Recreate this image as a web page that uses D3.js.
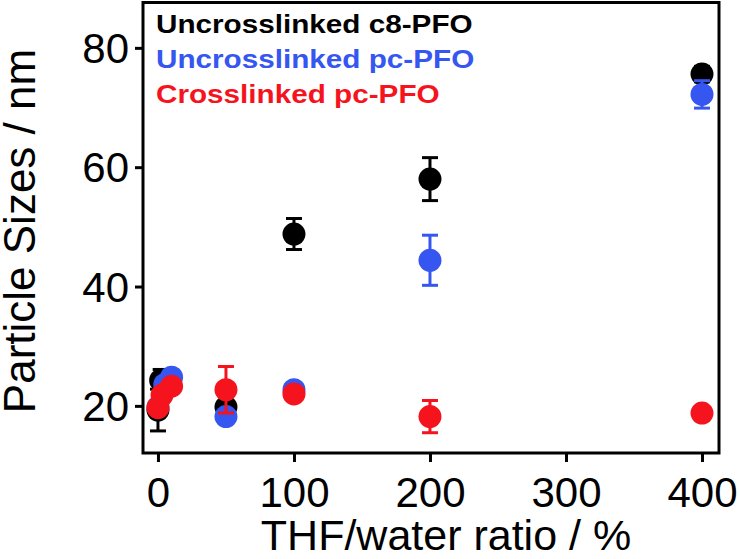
<!DOCTYPE html>
<html>
<head>
<meta charset="utf-8">
<script src="https://cdn.jsdelivr.net/npm/d3@7"></script>
<style>
  html, body { margin: 0; padding: 0; background: #fff; }
  svg { display: block; }
  text { font-family: "Liberation Sans", Arial, sans-serif; }
</style>
</head>
<body>
<svg id="chart" width="740" height="559"></svg>
<script>
// ---- data ----
const seriesNames = ["Uncrosslinked c8-PFO", "Uncrosslinked pc-PFO", "Crosslinked pc-PFO"];
const seriesColors = ["#000000", "#3556f0", "#f5141e"];

const xC8 = [0, 2, 50, 100, 200, 400];
const yC8 = [19.3, 24.3, 19.8, 48.8, 58.0, 75.6];
const eC8 = [3.5, 1.8, 0.8, 2.6, 3.6, 1.3];

const xPc = [0, 5, 10, 50, 100, 200, 400];
const yPc = [19.8, 23.6, 24.8, 18.2, 22.7, 44.4, 72.2];
const ePc = [0.8, 1.0, 1.2, 0.6, 0.5, 4.2, 2.3];

const xX = [0, 3, 10, 50, 100, 200, 400];
const yX = [19.7, 21.8, 23.3, 22.7, 22.0, 18.2, 18.8];
const eX = [0.5, 0.5, 0.5, 3.9, 0.4, 2.7, 0.4];

const xTicks = [0, 100, 200, 300, 400];
const yTicks = [20, 40, 60, 80];
const xTitle = "THF/water ratio / %";
const yTitle = "Particle Sizes / nm";

// ---- layout ----
const L = 143, R = 719, T = 2.5, B = 453;
const x = d3.scaleLinear().domain([-11, 412.5]).range([L, R]);
const y = d3.scaleLinear().domain([12.1, 87.6]).range([B, T]);

const svg = d3.select("#chart");

const series = [
  { name: seriesNames[0], color: seriesColors[0], xs: xC8, ys: yC8, es: eC8 },
  { name: seriesNames[1], color: seriesColors[1], xs: xPc, ys: yPc, es: ePc },
  { name: seriesNames[2], color: seriesColors[2], xs: xX, ys: yX, es: eX }
];

// axes
const xAxis = d3.axisBottom(x).tickValues(xTicks).tickSize(9).tickPadding(6).tickFormat(d3.format("d"));
const yAxis = d3.axisLeft(y).tickValues(yTicks).tickSize(8).tickPadding(7).tickFormat(d3.format("d"));

const gx = svg.append("g").attr("transform", `translate(0,${B})`).call(xAxis);
const gy = svg.append("g").attr("transform", `translate(${L},0)`).call(yAxis);
[gx, gy].forEach(g => {
  g.select(".domain").remove();
  g.selectAll(".tick line").attr("stroke", "#000").attr("stroke-width", 3);
  g.selectAll(".tick text").attr("fill", "#000").style("font-size", "42px")
    .style("font-family", "'Liberation Sans', Arial, sans-serif");
});
gx.selectAll(".tick text").attr("dy", null).attr("y", 54);
gy.selectAll(".tick text").attr("dy", "0.35em").attr("x", -14);

// frame
svg.append("rect").attr("x", L).attr("y", T).attr("width", R - L).attr("height", B - T)
  .attr("fill", "none").attr("stroke", "#000").attr("stroke-width", 3);

// points
const r = 11.5, capW = 8;
series.forEach(s => {
  const g = svg.append("g");
  const pts = s.xs.map((xv, i) => ({ x: xv, y: s.ys[i], e: s.es[i] }));
  const eb = g.selectAll("g.eb").data(pts).enter().append("g");
  eb.append("line")
    .attr("x1", d => x(d.x)).attr("x2", d => x(d.x))
    .attr("y1", d => y(d.y - d.e)).attr("y2", d => y(d.y + d.e))
    .attr("stroke", s.color).attr("stroke-width", 3);
  eb.append("line")
    .attr("x1", d => x(d.x) - capW).attr("x2", d => x(d.x) + capW)
    .attr("y1", d => y(d.y + d.e)).attr("y2", d => y(d.y + d.e))
    .attr("stroke", s.color).attr("stroke-width", 3);
  eb.append("line")
    .attr("x1", d => x(d.x) - capW).attr("x2", d => x(d.x) + capW)
    .attr("y1", d => y(d.y - d.e)).attr("y2", d => y(d.y - d.e))
    .attr("stroke", s.color).attr("stroke-width", 3);
  g.selectAll("circle").data(pts).enter().append("circle")
    .attr("cx", d => x(d.x)).attr("cy", d => y(d.y)).attr("r", r)
    .attr("fill", s.color);
});

// legend
series.forEach((s, i) => {
  svg.append("text")
    .attr("transform", `translate(156,${33 + i * 35}) scale(1.142,1)`)
    .attr("fill", s.color)
    .style("font-size", "26px").style("font-weight", "bold")
    .text(s.name);
});

// titles
svg.append("text")
  .attr("x", 446).attr("y", 550)
  .attr("text-anchor", "middle").style("font-size", "43px").attr("fill", "#000")
  .text(xTitle);
svg.append("text")
  .attr("transform", `translate(35,${231}) rotate(-90)`)
  .attr("text-anchor", "middle").style("font-size", "44px").attr("fill", "#000")
  .text(yTitle);
</script>
</body>
</html>
